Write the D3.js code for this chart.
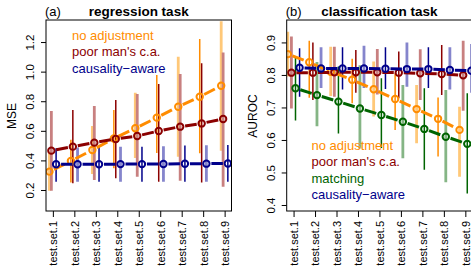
<!DOCTYPE html>
<html>
<head>
<meta charset="utf-8">
<script src="https://cdn.jsdelivr.net/npm/d3@7"></script>
<style>
  body { margin: 0; background: #fff; }
  svg { display: block; font-family: "Liberation Sans", Arial, sans-serif; }
</style>
</head>
<body>
<div id="chart"></div>
<script>
// x categories
const testSets = ["test.set.1", "test.set.2", "test.set.3", "test.set.4", "test.set.5",
                  "test.set.6", "test.set.7", "test.set.8", "test.set.9"];

// (a) regression task, MSE
const mseTicks = [0.2, 0.4, 0.6, 0.8, 1.0, 1.2];
const mseNoAdj   = [0.324, 0.396, 0.470, 0.548, 0.617, 0.689, 0.763, 0.830, 0.905];
const mseNoAdjLo = [0.195, 0.250, 0.308, 0.347, 0.416, 0.450, 0.425, 0.448, 0.466];
const mseNoAdjHi = [0.460, 0.540, 0.632, 0.740, 0.858, 0.977, 1.100, 1.220, 1.340];
const msePoor    = [0.466, 0.493, 0.520, 0.545, 0.565, 0.599, 0.628, 0.650, 0.680];
const msePoorLo  = [0.195, 0.245, 0.268, 0.280, 0.290, 0.256, 0.263, 0.250, 0.222];
const msePoorHi  = [0.734, 0.740, 0.768, 0.808, 0.849, 0.916, 0.984, 1.056, 1.130];
const mseCausal   = [0.374, 0.374, 0.374, 0.375, 0.375, 0.376, 0.377, 0.378, 0.379];
const mseCausalLo = [0.256, 0.255, 0.255, 0.255, 0.255, 0.256, 0.256, 0.256, 0.256];
const mseCausalHi = [0.482, 0.488, 0.490, 0.493, 0.493, 0.495, 0.500, 0.502, 0.504];

// (b) classification task, AUROC
const aucTicks = [0.4, 0.5, 0.6, 0.7, 0.8, 0.9];
const aucNoAdj   = [0.864, 0.839, 0.810, 0.785, 0.756, 0.726, 0.695, 0.665, 0.631];
const aucNoAdjLo = [0.795, 0.730, 0.735, 0.713, 0.672, 0.631, 0.590, 0.549, 0.487];
const aucNoAdjHi = [0.933, 0.905, 0.887, 0.850, 0.841, 0.805, 0.769, 0.731, 0.702];
const aucPoor    = [0.807, 0.807, 0.808, 0.808, 0.808, 0.807, 0.805, 0.803, 0.799];
const aucPoorLo  = [0.697, 0.723, 0.733, 0.745, 0.740, 0.728, 0.723, 0.738, 0.690];
const aucPoorHi  = [0.918, 0.900, 0.887, 0.877, 0.880, 0.872, 0.879, 0.892, 0.905];
const aucMatch   = [0.759, 0.738, 0.718, 0.697, 0.677, 0.656, 0.634, 0.610, 0.588];
const aucMatchLo = [0.660, 0.642, 0.620, 0.574, 0.575, 0.544, 0.508, 0.470, 0.435];
const aucMatchHi = [0.856, 0.840, 0.826, 0.830, 0.790, 0.769, 0.759, 0.754, 0.744];
const aucCausal   = [0.822, 0.820, 0.820, 0.820, 0.819, 0.818, 0.818, 0.815, 0.813];
const aucCausalLo = [0.733, 0.760, 0.755, 0.760, 0.757, 0.764, 0.760, 0.755, 0.745];
const aucCausalHi = [0.882, 0.885, 0.885, 0.890, 0.885, 0.900, 0.885, 0.885, 0.895];

// colours (dark for lines / thin bars, light for the thick bars)
const col = {
  noadj:  { dark: "#ff8c00", light: "#ffc878" },
  poor:   { dark: "#8b0000", light: "#c88080" },
  match:  { dark: "#006400", light: "#85b585" },
  causal: { dark: "#00008b", light: "#8585cc" }
};

const svg = d3.select("#chart").append("svg")
  .attr("width", 471)
  .attr("height", 269);

// constructor for one panel
function Panel(opt) {
  var self = this;
  self.opt = opt;
  self.init();
}

Panel.prototype.init = function () {
  var self = this;
  var o = self.opt;

  self.x = d3.scaleLinear().domain([0.68, 9.32]).range([o.left, o.left + 185.5]);
  self.y = d3.scaleLinear().domain(o.ydomain).range([211, 20]);

  self.g = svg.append("g");
  self.g.append("clipPath").attr("id", o.id + "-clip")
    .append("rect")
    .attr("x", self.x.range()[0]).attr("y", 20)
    .attr("width", 185.5).attr("height", 191);

  self.plot = self.g.append("g").attr("clip-path", "url(#" + o.id + "-clip)");
}

Panel.prototype.drawAxes = function () {
  var self = this;
  var o = self.opt;

  // y axis, labels parallel to the axis
  var yAxis = self.g.append("g")
    .attr("transform", "translate(" + o.left + ",0)")
    .call(d3.axisLeft(self.y).tickValues(o.yticks).tickSize(5).tickFormat(d3.format(".1f")));
  yAxis.select(".domain").remove();
  yAxis.selectAll("line").attr("stroke", "#000");
  yAxis.selectAll("text")
    .attr("x", 0).attr("y", 0).attr("dy", null)
    .attr("transform", "translate(-12,0) rotate(-90)")
    .style("text-anchor", "middle")
    .style("font-size", "11.5px")
    .style("font-family", "Liberation Sans, Arial, sans-serif")
    .attr("fill", "#000");

  // x axis with vertical labels
  var xAxis = self.g.append("g")
    .attr("transform", "translate(0,211)")
    .call(d3.axisBottom(self.x).tickValues(d3.range(1, 10)).tickSize(6)
      .tickFormat(function (d) { return testSets[d - 1]; }));
  xAxis.select(".domain").remove();
  xAxis.selectAll("line").attr("stroke", "#000");
  xAxis.selectAll("text")
    .attr("x", 0).attr("y", 0)
    .attr("dy", "0.35em")
    .attr("transform", "translate(0,10) rotate(-90)")
    .style("text-anchor", "end")
    .style("font-size", "11px")
    .style("font-family", "Liberation Sans, Arial, sans-serif")
    .attr("fill", "#000");

  // box
  self.g.append("rect")
    .attr("x", o.left).attr("y", 20)
    .attr("width", 185.5).attr("height", 191)
    .attr("fill", "none").attr("stroke", "#000").attr("stroke-width", 1);

  // axis title
  self.g.append("text")
    .attr("transform", "translate(" + (o.left - 30) + ",116) rotate(-90)")
    .style("text-anchor", "middle")
    .style("font-size", "12px")
    .text(o.ylabel);

  // panel tag and title
  self.g.append("text")
    .attr("x", o.left - 1).attr("y", 16)
    .style("font-size", "13px")
    .text(o.tag);
  self.g.append("text")
    .attr("x", o.left + 185.5 / 2).attr("y", 16)
    .style("text-anchor", "middle")
    .style("font-size", "13.5px")
    .style("font-weight", "bold")
    .text(o.title);
}

Panel.prototype.drawSeries = function () {
  var self = this;
  var o = self.opt;

  // error bars first, alternating thick light and thin dark
  o.series.forEach(function (s) {
    var rows = s.mean.map(function (m, i) {
      return { i: i, x: i + 1 + s.shift, m: m, lo: s.lo[i], hi: s.hi[i] };
    });
    self.plot.selectAll(null)
      .data(rows)
      .enter()
      .append("line")
      .attr("x1", d => self.x(d.x)).attr("x2", d => self.x(d.x))
      .attr("y1", d => self.y(d.lo)).attr("y2", d => self.y(d.hi))
      .attr("stroke", d => ((d.i + s.phase) % 2 == 0) ? s.color.light : s.color.dark)
      .attr("stroke-width", d => ((d.i + s.phase) % 2 == 0) ? 2.8 : 1.5);
    s.rows = rows;
  });

  // dashed connecting segments (R type="b", gaps round the points) and open circles
  o.series.forEach(function (s) {
    var gap = 5;
    var segs = d3.pairs(s.rows).map(function (p) {
      var x1 = self.x(p[0].x), y1 = self.y(p[0].m);
      var x2 = self.x(p[1].x), y2 = self.y(p[1].m);
      var len = Math.hypot(x2 - x1, y2 - y1);
      var ux = (x2 - x1) / len, uy = (y2 - y1) / len;
      return { x1: x1 + ux * gap, y1: y1 + uy * gap, x2: x2 - ux * gap, y2: y2 - uy * gap };
    });
    self.plot.selectAll(null)
      .data(segs)
      .enter()
      .append("line")
      .attr("x1", d => d.x1).attr("y1", d => d.y1)
      .attr("x2", d => d.x2).attr("y2", d => d.y2)
      .attr("stroke", s.color.dark)
      .attr("stroke-width", 3)
      .attr("stroke-dasharray", "12,12");

    self.plot.selectAll(null)
      .data(s.rows)
      .enter()
      .append("circle")
      .attr("cx", d => self.x(d.x)).attr("cy", d => self.y(d.m))
      .attr("r", 3.2)
      .attr("fill", "none")
      .attr("stroke", s.color.dark)
      .attr("stroke-width", 2);
  });

  // legend text
  o.series.slice().sort((a, b) => a.order - b.order).forEach(function (s, k) {
    self.g.append("text")
      .attr("x", o.legendX).attr("y", o.legendY + k * 16.4)
      .style("font-size", "13px")
      .attr("fill", s.color.dark)
      .text(s.name);
  });
}

var panelA = new Panel({
  id: "pa", left: 46, ydomain: [0.058, 1.349], yticks: mseTicks,
  ylabel: "MSE", tag: "(a)", title: "regression task",
  legendX: 72, legendY: 40,
  series: [
    { name: "no adjustment", order: 0, mean: mseNoAdj, lo: mseNoAdjLo, hi: mseNoAdjHi, shift: -0.16, phase: 0, color: col.noadj },
    { name: "poor man's c.a.", order: 1, mean: msePoor, lo: msePoorLo, hi: msePoorHi, shift: -0.07, phase: 0, color: col.poor },
    { name: "causality\u2212aware", order: 2, mean: mseCausal, lo: mseCausalLo, hi: mseCausalHi, shift: 0.15, phase: 1, color: col.causal }
  ]
});
panelA.drawSeries();
panelA.drawAxes();

var panelB = new Panel({
  id: "pb", left: 286.7, ydomain: [0.3815, 0.969], yticks: aucTicks,
  ylabel: "AUROC", tag: "(b)", title: "classification task",
  legendX: 311.5, legendY: 150,
  series: [
    { name: "no adjustment", order: 0, mean: aucNoAdj, lo: aucNoAdjLo, hi: aucNoAdjHi, shift: -0.27, phase: 0, color: col.noadj },
    { name: "poor man's c.a.", order: 1, mean: aucPoor, lo: aucPoorLo, hi: aucPoorHi, shift: -0.10, phase: 0, color: col.poor },
    { name: "matching", order: 2, mean: aucMatch, lo: aucMatchLo, hi: aucMatchHi, shift: 0.09, phase: 1, color: col.match },
    { name: "causality\u2212aware", order: 3, mean: aucCausal, lo: aucCausalLo, hi: aucCausalHi, shift: 0.28, phase: 1, color: col.causal }
  ]
});
panelB.drawSeries();
panelB.drawAxes();
</script>
</body>
</html>
